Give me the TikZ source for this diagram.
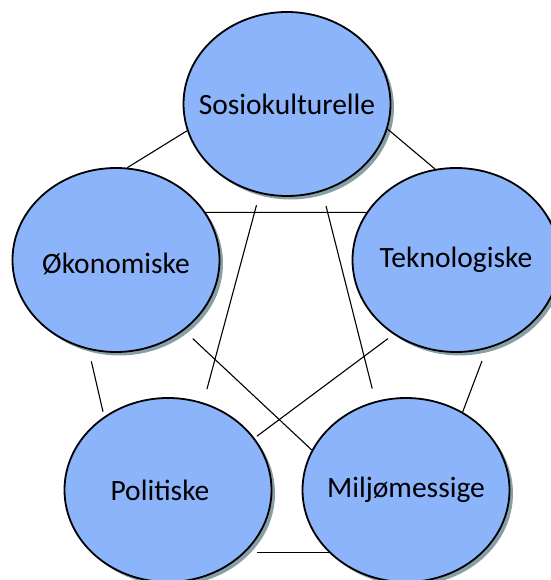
\documentclass[tikz,border=0pt]{standalone}
\usepackage{fontspec}
\setmainfont{Carlito}
\usetikzlibrary{shapes.geometric,shadows}
\definecolor{blobblue}{RGB}{140,180,250}
\definecolor{blobshade}{RGB}{135,160,168}

\begin{document}
\begin{tikzpicture}[x=1pt,y=1pt,
    blob/.style={ellipse, draw=black, line width=1.8pt, fill=blobblue,
      minimum width=207pt, minimum height=184pt, inner sep=0pt,
      drop shadow={shadow xshift=3.5pt, shadow yshift=-3.5pt, fill=blobshade, opacity=1}},
    every label/.style={font=\fontsize{29.5}{35}\selectfont},
    link/.style={line width=1.1pt}]
      \useasboundingbox (0,0) rectangle (550,580);

      \node (sosio) at (287,476) [blob, label=center:Sosiokulturelle] {};
      \node (oko) at (116,320) [blob, label={[yshift=-4pt]center:Økonomiske}] {};
      \node (tekno) at (456,320) [blob, label=center:Teknologiske] {};
      \node (polit) at (168,90) [blob, label={[xshift=-8pt]center:Politiske}] {};
      \node (miljo) at (406,90) [blob, label=center:Miljømessige] {};

    \draw[link]
    (sosio.195) -- (oko.83)
    (sosio.346) -- (tekno.103)
    (oko.28) -- (tekno.152);

    \draw[link, shorten <=12pt, shorten >=14pt] (sosio.253) -- (polit.68);
    \draw[link, shorten <=15pt, shorten >=13pt] (sosio.292) -- (miljo.109);
    \draw[link, shorten <=12pt] (oko.314) -- (miljo.157);
    \draw[link, shorten <=7pt, shorten >=3pt] (tekno.230) -- (polit.31);
    \draw[link, shorten <=12pt, shorten >=5pt] (oko.253) -- (polit.131);
    \draw[link, shorten <=13pt] (tekno.289) -- (miljo.54);
    \draw[link, shorten <=12pt] (polit.321) -- (miljo.219);
  \end{tikzpicture}
\end{document}
